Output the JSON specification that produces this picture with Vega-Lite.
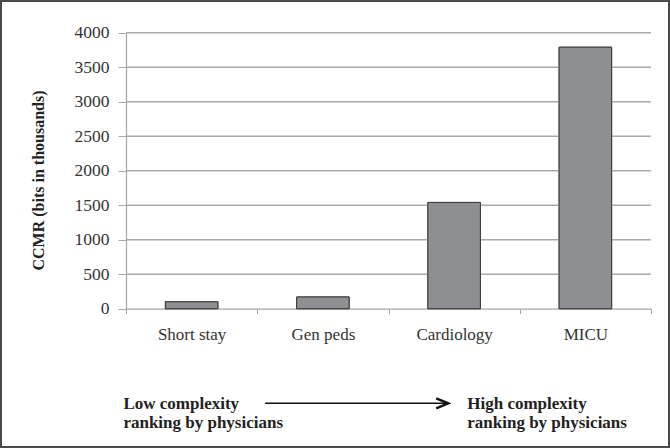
{
  "$schema": "https://vega.github.io/schema/vega-lite/v6.json",
  "width": 670,
  "height": 448,
  "autosize": "none",
  "padding": 0,
  "background": "#ffffff",
  "config": {
    "view": {"stroke": "#4a4a4a", "strokeWidth": 4},
    "font": "Liberation Serif"
  },
  "datasets": {
    "units": [
      {"unit": "Short stay", "ccmr": 100},
      {"unit": "Gen peds", "ccmr": 170},
      {"unit": "Cardiology", "ccmr": 1540},
      {"unit": "MICU", "ccmr": 3790}
    ],
    "levels": [
      {"level": 500, "from": 0, "to": 4},
      {"level": 1000, "from": 0, "to": 4},
      {"level": 1500, "from": 0, "to": 4},
      {"level": 2000, "from": 0, "to": 4},
      {"level": 2500, "from": 0, "to": 4},
      {"level": 3000, "from": 0, "to": 4},
      {"level": 3500, "from": 0, "to": 4},
      {"level": 4000, "from": 0, "to": 4}
    ],
    "notes": [
      {"label": "Low complexity\nranking by physicians", "ax": -0.02, "ay": -1453},
      {"label": "High complexity\nranking by physicians", "ax": 2.6, "ay": -1453}
    ],
    "arrow": [
      {"x1": 1.06, "x2": 2.455, "ay": -1372}
    ]
  },
  "layer": [
    {
      "data": {"name": "units"},
      "mark": {"type": "bar", "width": {"band": 0.4}, "fill": "#8e8f93", "stroke": "#3a3a3a", "strokeWidth": 1},
      "encoding": {
        "x": {
          "field": "unit", "type": "nominal", "sort": null,
          "scale": {"range": [126, 651], "paddingInner": 0, "paddingOuter": 0},
          "axis": {
            "title": null, "offset": -139.3, "labelAngle": 0,
            "labelFont": "Liberation Serif", "labelFontSize": 17, "labelColor": "#333333",
            "labelPadding": 13, "tickBand": "extent", "tickSize": 5, "tickColor": "#a6a6a6",
            "domainColor": "#a6a6a6", "domainWidth": 1.2, "grid": false
          }
        },
        "y": {
          "field": "ccmr", "type": "quantitative",
          "scale": {"domain": [0, 4000], "range": [308.7, 32.7], "nice": false, "zero": true},
          "axis": {
            "title": "CCMR (bits in thousands)", "offset": -126, "format": "d",
            "values": [0, 500, 1000, 1500, 2000, 2500, 3000, 3500, 4000],
            "titleFont": "Liberation Serif", "titleFontSize": 16, "titleFontWeight": "bold", "titleColor": "#222222",
            "titleX": -80, "titleY": 180, "titleLimit": 400,
            "labelFont": "Liberation Serif", "labelFontSize": 17.5, "labelColor": "#333333", "labelPadding": 9,
            "tickSize": 8, "tickColor": "#a6a6a6", "domainColor": "#a6a6a6", "domainWidth": 1.2,
            "grid": false
          }
        }
      }
    },
    {
      "data": {"name": "levels"},
      "mark": {"type": "rule", "stroke": "#a9a9a9", "strokeWidth": 1.5},
      "encoding": {
        "x": {"field": "from", "type": "quantitative", "scale": {"domain": [0, 4], "range": [126, 651], "nice": false, "zero": false}, "axis": null},
        "x2": {"field": "to"},
        "y": {"field": "level", "type": "quantitative", "scale": {"domain": [0, 4000], "range": [308.7, 32.7], "nice": false, "zero": false}, "axis": null}
      }
    },
    {
      "data": {"name": "units"},
      "mark": {"type": "bar", "width": {"band": 0.4}, "fill": "#8e8f93", "stroke": "#3a3a3a", "strokeWidth": 1},
      "encoding": {
        "x": {"field": "unit", "type": "nominal", "sort": null, "scale": {"range": [126, 651], "paddingInner": 0, "paddingOuter": 0}, "axis": null},
        "y": {"field": "ccmr", "type": "quantitative", "scale": {"domain": [0, 4000], "range": [308.7, 32.7], "nice": false, "zero": true}, "axis": null}
      }
    },
    {
      "data": {"name": "notes"},
      "mark": {"type": "text", "align": "left", "baseline": "alphabetic", "lineBreak": "\n", "lineHeight": 19.5, "font": "Liberation Serif", "fontSize": 17, "fontWeight": "bold", "fill": "#222222"},
      "encoding": {
        "x": {"field": "ax", "type": "quantitative", "scale": {"domain": [0, 4], "range": [126, 651], "nice": false, "zero": false}, "axis": null},
        "y": {"field": "ay", "type": "quantitative", "scale": {"domain": [0, 4000], "range": [308.7, 32.7], "nice": false, "zero": false}, "axis": null},
        "text": {"field": "label"}
      }
    },
    {
      "data": {"name": "arrow"},
      "mark": {"type": "rule", "stroke": "#111111", "strokeWidth": 1.5},
      "encoding": {
        "x": {"field": "x1", "type": "quantitative", "scale": {"domain": [0, 4], "range": [126, 651], "nice": false, "zero": false}, "axis": null},
        "x2": {"field": "x2"},
        "y": {"field": "ay", "type": "quantitative", "scale": {"domain": [0, 4000], "range": [308.7, 32.7], "nice": false, "zero": false}, "axis": null}
      }
    },
    {
      "data": {"name": "arrow"},
      "mark": {"type": "point", "shape": "M-1,-0.42L0,0L-1,0.42", "filled": false, "stroke": "#111111", "strokeWidth": 2.5, "size": 576, "opacity": 1},
      "encoding": {
        "x": {"field": "x2", "type": "quantitative", "scale": {"domain": [0, 4], "range": [126, 651], "nice": false, "zero": false}, "axis": null},
        "y": {"field": "ay", "type": "quantitative", "scale": {"domain": [0, 4000], "range": [308.7, 32.7], "nice": false, "zero": false}, "axis": null}
      }
    }
  ],
  "resolve": {"scale": {"x": "independent", "y": "independent"}}
}
